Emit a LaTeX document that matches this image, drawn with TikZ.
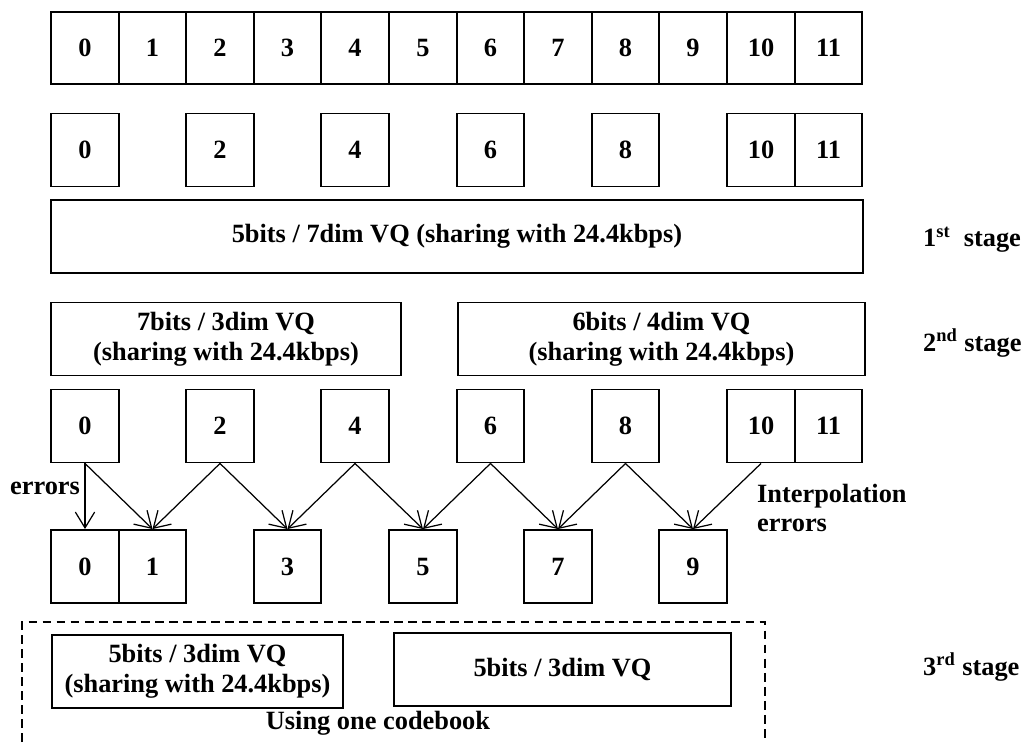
\documentclass[tikz,border=0pt]{standalone}
\usepackage{fontspec}
\setmainfont{Liberation Serif}
\usepackage{tikz}
\usetikzlibrary{arrows.meta}
\tikzset{
    cellBox/.style={
        draw,
        line width=1.1pt,
        minimum width=1.352cm,
        minimum height=1.46cm,
        inner sep=0pt
    },
    vqBox/.style={
        draw,
        line width=1.1pt,
        minimum height=1.46cm,
        align=center,
        inner sep=2pt
    },
    stageLabel/.style={anchor=west},
    errArrow/.style={-{Straight Barb[length=9pt,width=11pt]}, line width=0.7pt},
}

\begin{document}
\begin{tikzpicture}[font=\fontsize{15}{17}\selectfont\bfseries]
    \useasboundingbox (0,0) rectangle (20.68,-14.84);

    % Top row - all 12 coefficients
    \node[cellBox, minimum height=1.44cm] (top0) at (1.70,-0.96) {0};
    \node[cellBox, minimum height=1.44cm] (top1) at (3.05,-0.96) {1};
    \node[cellBox, minimum height=1.44cm] (top2) at (4.40,-0.96) {2};
    \node[cellBox, minimum height=1.44cm] (top3) at (5.75,-0.96) {3};
    \node[cellBox, minimum height=1.44cm] (top4) at (7.10,-0.96) {4};
    \node[cellBox, minimum height=1.44cm] (top5) at (8.46,-0.96) {5};
    \node[cellBox, minimum height=1.44cm] (top6) at (9.81,-0.96) {6};
    \node[cellBox, minimum height=1.44cm] (top7) at (11.16,-0.96) {7};
    \node[cellBox, minimum height=1.44cm] (top8) at (12.51,-0.96) {8};
    \node[cellBox, minimum height=1.44cm] (top9) at (13.86,-0.96) {9};
    \node[cellBox, minimum height=1.44cm] (top10) at (15.22,-0.96) {10};
    \node[cellBox, minimum height=1.44cm] (top11) at (16.57,-0.96) {11};

    % Second row - even ones plus 11
    \node[cellBox] (sub0) at (1.70,-3.00) {0};
    \node[cellBox] (sub2) at (4.40,-3.00) {2};
    \node[cellBox] (sub4) at (7.10,-3.00) {4};
    \node[cellBox] (sub6) at (9.81,-3.00) {6};
    \node[cellBox] (sub8) at (12.51,-3.00) {8};
    \node[cellBox] (sub10) at (15.22,-3.00) {10};
    \node[cellBox] (sub11) at (16.57,-3.00) {11};

    % 1st stage
    \node[vqBox, minimum width=16.24cm] (vqA) at (9.14,-4.73) {5bits / 7dim VQ (sharing with 24.4kbps)};
    \node[stageLabel] (stA) at (18.34,-4.80) {1\textsuperscript{st}\ \ stage};

    % 2nd stage
    \node[vqBox, minimum width=7.0cm] (vqB) at (4.52,-6.78) {7bits / 3dim VQ\\(sharing with 24.4kbps)};
    \node[vqBox, minimum width=8.14cm] (vqC) at (13.23,-6.78) {6bits / 4dim VQ\\(sharing with 24.4kbps)};
    \node[stageLabel] (stB) at (18.34,-6.86) {2\textsuperscript{nd} stage};

    % Quantized even ones
    \node[cellBox] (mid0) at (1.70,-8.52) {0};
    \node[cellBox] (mid2) at (4.40,-8.52) {2};
    \node[cellBox] (mid4) at (7.10,-8.52) {4};
    \node[cellBox] (mid6) at (9.81,-8.52) {6};
    \node[cellBox] (mid8) at (12.51,-8.52) {8};
    \node[cellBox] (mid10) at (15.22,-8.52) {10};
    \node[cellBox] (mid11) at (16.57,-8.52) {11};

    % Interpolated ones
    \node[cellBox] (low0) at (1.70,-11.33) {0};
    \node[cellBox] (low1) at (3.05,-11.33) {1};
    \node[cellBox] (low3) at (5.75,-11.33) {3};
    \node[cellBox] (low5) at (8.46,-11.33) {5};
    \node[cellBox] (low7) at (11.16,-11.33) {7};
    \node[cellBox] (low9) at (13.86,-11.33) {9};

    \draw[errArrow] (mid0.south) -- (low0.north);
    \draw[errArrow] (mid0.south) -- (low1.north);
    \draw[errArrow] (mid2.south) -- (low1.north);
    \draw[errArrow] (mid2.south) -- (low3.north);
    \draw[errArrow] (mid4.south) -- (low3.north);
    \draw[errArrow] (mid4.south) -- (low5.north);
    \draw[errArrow] (mid6.south) -- (low5.north);
    \draw[errArrow] (mid6.south) -- (low7.north);
    \draw[errArrow] (mid8.south) -- (low7.north);
    \draw[errArrow] (mid8.south) -- (low9.north);
    \draw[errArrow] (mid10.south) -- (low9.north);

    \node (errL) at (0.90,-9.76) {errors};
    \node[anchor=west, align=left] (errR) at (15.02,-10.16) {Interpolation\\errors};

    % 3rd stage - one codebook
    \draw[dashed, line width=1.1pt, dash pattern=on 5pt off 3pt] (0.44,-14.84) -- (0.44,-12.44) -- (15.30,-12.44) -- (15.30,-14.84);
    \node[vqBox, minimum width=5.82cm] (vqD) at (3.95,-13.43) {5bits / 3dim VQ\\(sharing with 24.4kbps)};
    \node[vqBox, minimum width=6.74cm] (vqE) at (11.25,-13.39) {5bits / 3dim VQ};
    \node (book) at (7.56,-14.46) {Using one codebook};
    \node[stageLabel] (stC) at (18.34,-13.34) {3\textsuperscript{rd} stage};

\end{tikzpicture}
\end{document}
